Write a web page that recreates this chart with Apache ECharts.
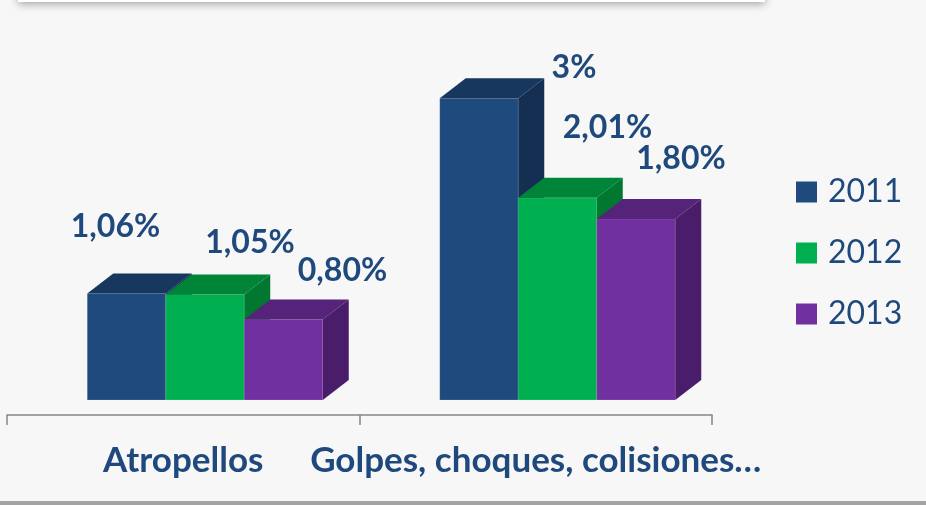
<!DOCTYPE html>
<html><head><meta charset="utf-8">
<script src="https://cdn.jsdelivr.net/npm/echarts@6/dist/echarts.min.js"></script>
<style>html,body{margin:0;padding:0;background:#f7f7f7;}#c{width:926px;height:505px;}</style>
</head><body><div id="c"></div>
<script>
// ---- data ----
var categories = ['Atropellos', 'Golpes, choques, colisiones…'];
var years = ['2011', '2012', '2013'];
var values2011 = [1.06, 3.00];
var values2012 = [1.05, 2.01];
var values2013 = [0.80, 1.80];

// ---- styles ----
var faceColors = [
  {front: '#1f4a7d', top: '#17375e', side: '#152f52'},
  {front: '#00b050', top: '#008538', side: '#00782f'},
  {front: '#7030a0', top: '#552379', side: '#4a1d6a'}
];
// manual label placements (relative to front-top-center of each bar), per series per category
var labelOffsets = [
  [[-11, -67], [95, -31]],
  [[45, -52], [50, -70]],
  [[59, -49], [45, -60]]
];
var labelColor = '#1f497d';
var FONT = 'Lato';
var barW = 78.5, groupStart = -96, depthX = 26, depthY = -20;

function fmt(v) {
  if (Math.abs(v - Math.round(v)) < 1e-9) return Math.round(v) + '%';
  return v.toFixed(2).replace('.', ',') + '%';
}

function makeRender(sIdx) {
  return function (params, api) {
    var ci = api.value(0), v = api.value(1);
    var base = api.coord([ci, 0]);
    var top = api.coord([ci, v]);
    var x0 = base[0] + groupStart + sIdx * barW;
    var x1 = x0 + barW;
    var ty = top[1], by = base[1];
    var c = faceColors[sIdx];
    var off = labelOffsets[sIdx][ci];
    return {
      type: 'group',
      children: [
        {type: 'rect', shape: {x: x0, y: ty, width: barW, height: by - ty},
         style: {fill: c.front, stroke: 'rgba(255,255,255,0.25)', lineWidth: 0.6}},
        {type: 'polygon', shape: {points: [[x0, ty], [x1, ty], [x1 + depthX, ty + depthY], [x0 + depthX, ty + depthY]]},
         style: {fill: c.top}},
        {type: 'polygon', shape: {points: [[x1, ty], [x1 + depthX, ty + depthY], [x1 + depthX, by + depthY], [x1, by]]},
         style: {fill: c.side}},
        {type: 'text', x: (x0 + x1) / 2 + off[0], y: ty + off[1],
         style: {text: fmt(v), fill: labelColor, font: 'bold 32px ' + FONT, align: 'center', verticalAlign: 'middle'}}
      ]
    };
  };
}

var seriesValues = [values2011, values2012, values2013];
var series = years.map(function (y, i) {
  return {
    name: y,
    type: 'custom',
    renderItem: makeRender(i),
    itemStyle: {color: faceColors[i].front},
    encode: {x: 0, y: 1},
    data: seriesValues[i].map(function (v, ci) { return [ci, v]; })
  };
});

var chart = echarts.init(document.getElementById('c'));
chart.setOption({
  backgroundColor: '#f7f7f7',
  animation: false,
  grid: {left: 7, right: 214, top: 48, bottom: 105},
  xAxis: {
    type: 'category',
    data: categories,
    offset: 15,
    axisLine: {onZero: false, lineStyle: {color: '#868686', width: 1.5}},
    axisTick: {show: true, length: 10, lineStyle: {color: '#868686', width: 1.5}},
    axisLabel: {interval: 0, margin: 28, color: labelColor, fontFamily: FONT, fontWeight: 'bold', fontSize: 35}
  },
  yAxis: {type: 'value', min: 0, max: 3.5, show: false},
  legend: {
    data: years,
    orient: 'vertical',
    left: 791, top: 171,
    icon: 'rect',
    itemWidth: 21, itemHeight: 21, itemGap: 29,
    textStyle: {color: labelColor, fontFamily: FONT, fontSize: 32, lineHeight: 32, padding: [0, 0, 0, 6]}
  },
  graphic: [
    {type: 'rect', left: 18, top: -20, shape: {width: 747, height: 22},
     style: {fill: '#ffffff', shadowBlur: 8, shadowColor: 'rgba(0,0,0,0.35)', shadowOffsetY: 2}},
    {type: 'rect', left: 0, top: 501, shape: {width: 926, height: 4}, style: {fill: '#a3a3a3'}}
  ],
  series: series
});
</script></body></html>
